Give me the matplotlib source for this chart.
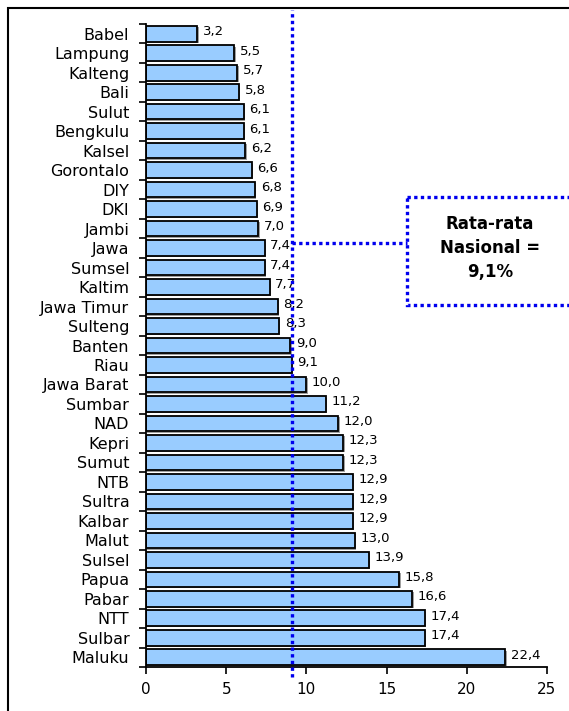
import matplotlib
matplotlib.use("Agg")
import matplotlib.pyplot as plt
from matplotlib.patches import Rectangle
import numpy as np

provinces = ["Babel", "Lampung", "Kalteng", "Bali", "Sulut", "Bengkulu", "Kalsel",
             "Gorontalo", "DIY", "DKI", "Jambi", "Jawa", "Sumsel", "Kaltim",
             "Jawa Timur", "Sulteng", "Banten", "Riau", "Jawa Barat", "Sumbar",
             "NAD", "Kepri", "Sumut", "NTB", "Sultra", "Kalbar", "Malut", "Sulsel",
             "Papua", "Pabar", "NTT", "Sulbar", "Maluku"]
values = [3.2, 5.5, 5.7, 5.8, 6.1, 6.1, 6.2, 6.6, 6.8, 6.9, 7.0, 7.4, 7.4, 7.7,
          8.2, 8.3, 9.0, 9.1, 10.0, 11.2, 12.0, 12.3, 12.3, 12.9, 12.9, 12.9, 13.0,
          13.9, 15.8, 16.6, 17.4, 17.4, 22.4]
national_avg = 9.1
avg_label = "Rata-rata\nNasional =\n9,1%"
xticks = [0, 5, 10, 15, 20, 25]

plt.rcParams['font.family'] = ['DejaVu Sans']

W, H = 569, 711
fig = plt.figure(figsize=(W / 100, H / 100), dpi=100)
ax = fig.add_axes([146 / W, 1 - 667 / H, (547 - 146) / W, (667 - 24) / H])

y = np.arange(len(provinces))
# shadow
ax.barh(y + 0.07, values, height=0.8, left=0.08, color="#a0a0a0", edgecolor="none", zorder=1)
ax.barh(y, values, height=0.8, color="#99CCFF", edgecolor="black", linewidth=1.3, zorder=2)

for yi, v in zip(y, values):
    ax.annotate(f"{v:.1f}".replace(".", ","), (v, yi), xytext=(4, 1.5), textcoords="offset points",
                ha="left", va="center", fontsize=9.5, zorder=4)

ax.set_xlim(0, 25)
ax.set_ylim(len(provinces) - 0.5, -0.5)
ax.set_xticks(xticks)
ax.set_xticklabels([str(t) for t in xticks], fontsize=11)
ax.set_yticks(y)
ax.set_yticklabels(provinces, fontsize=11.5)
ax.set_yticks(np.arange(-0.5, len(provinces), 1), minor=True)
ax.tick_params(axis="y", which="major", length=0, pad=12)
ax.tick_params(axis="y", which="minor", length=5, width=1.2, direction="out")
ax.tick_params(axis="x", length=5, width=1.2, pad=6)
for s in ["top", "right"]:
    ax.spines[s].set_visible(False)
for s in ["left", "bottom"]:
    ax.spines[s].set_linewidth(1.3)

dot = dict(color="#0000EE", linewidth=2.4, linestyle=(0, (1, 1)), clip_on=False, zorder=5)
ax.plot([national_avg, national_avg], [33.0, -1.2], **dot)
ax.plot([national_avg, 16.3], [10.75, 10.75], **dot)
box = Rectangle((16.3, 8.38), 13, 13.92 - 8.38, fill=False, edgecolor="#0000EE",
                linewidth=2.4, linestyle=(0, (1, 1)), clip_on=False, zorder=5)
ax.add_patch(box)
ax.text(21.45, 11.0, avg_label, ha="center", va="center", fontsize=12, fontweight="bold",
        linespacing=1.45, zorder=6)

# outer border
fig.patches.append(Rectangle((8 / W, -0.1), 1.2, 1 - 8 / H + 0.1, transform=fig.transFigure,
                             fill=False, edgecolor="black", linewidth=1.5))

fig.savefig("out.png", dpi=100)
